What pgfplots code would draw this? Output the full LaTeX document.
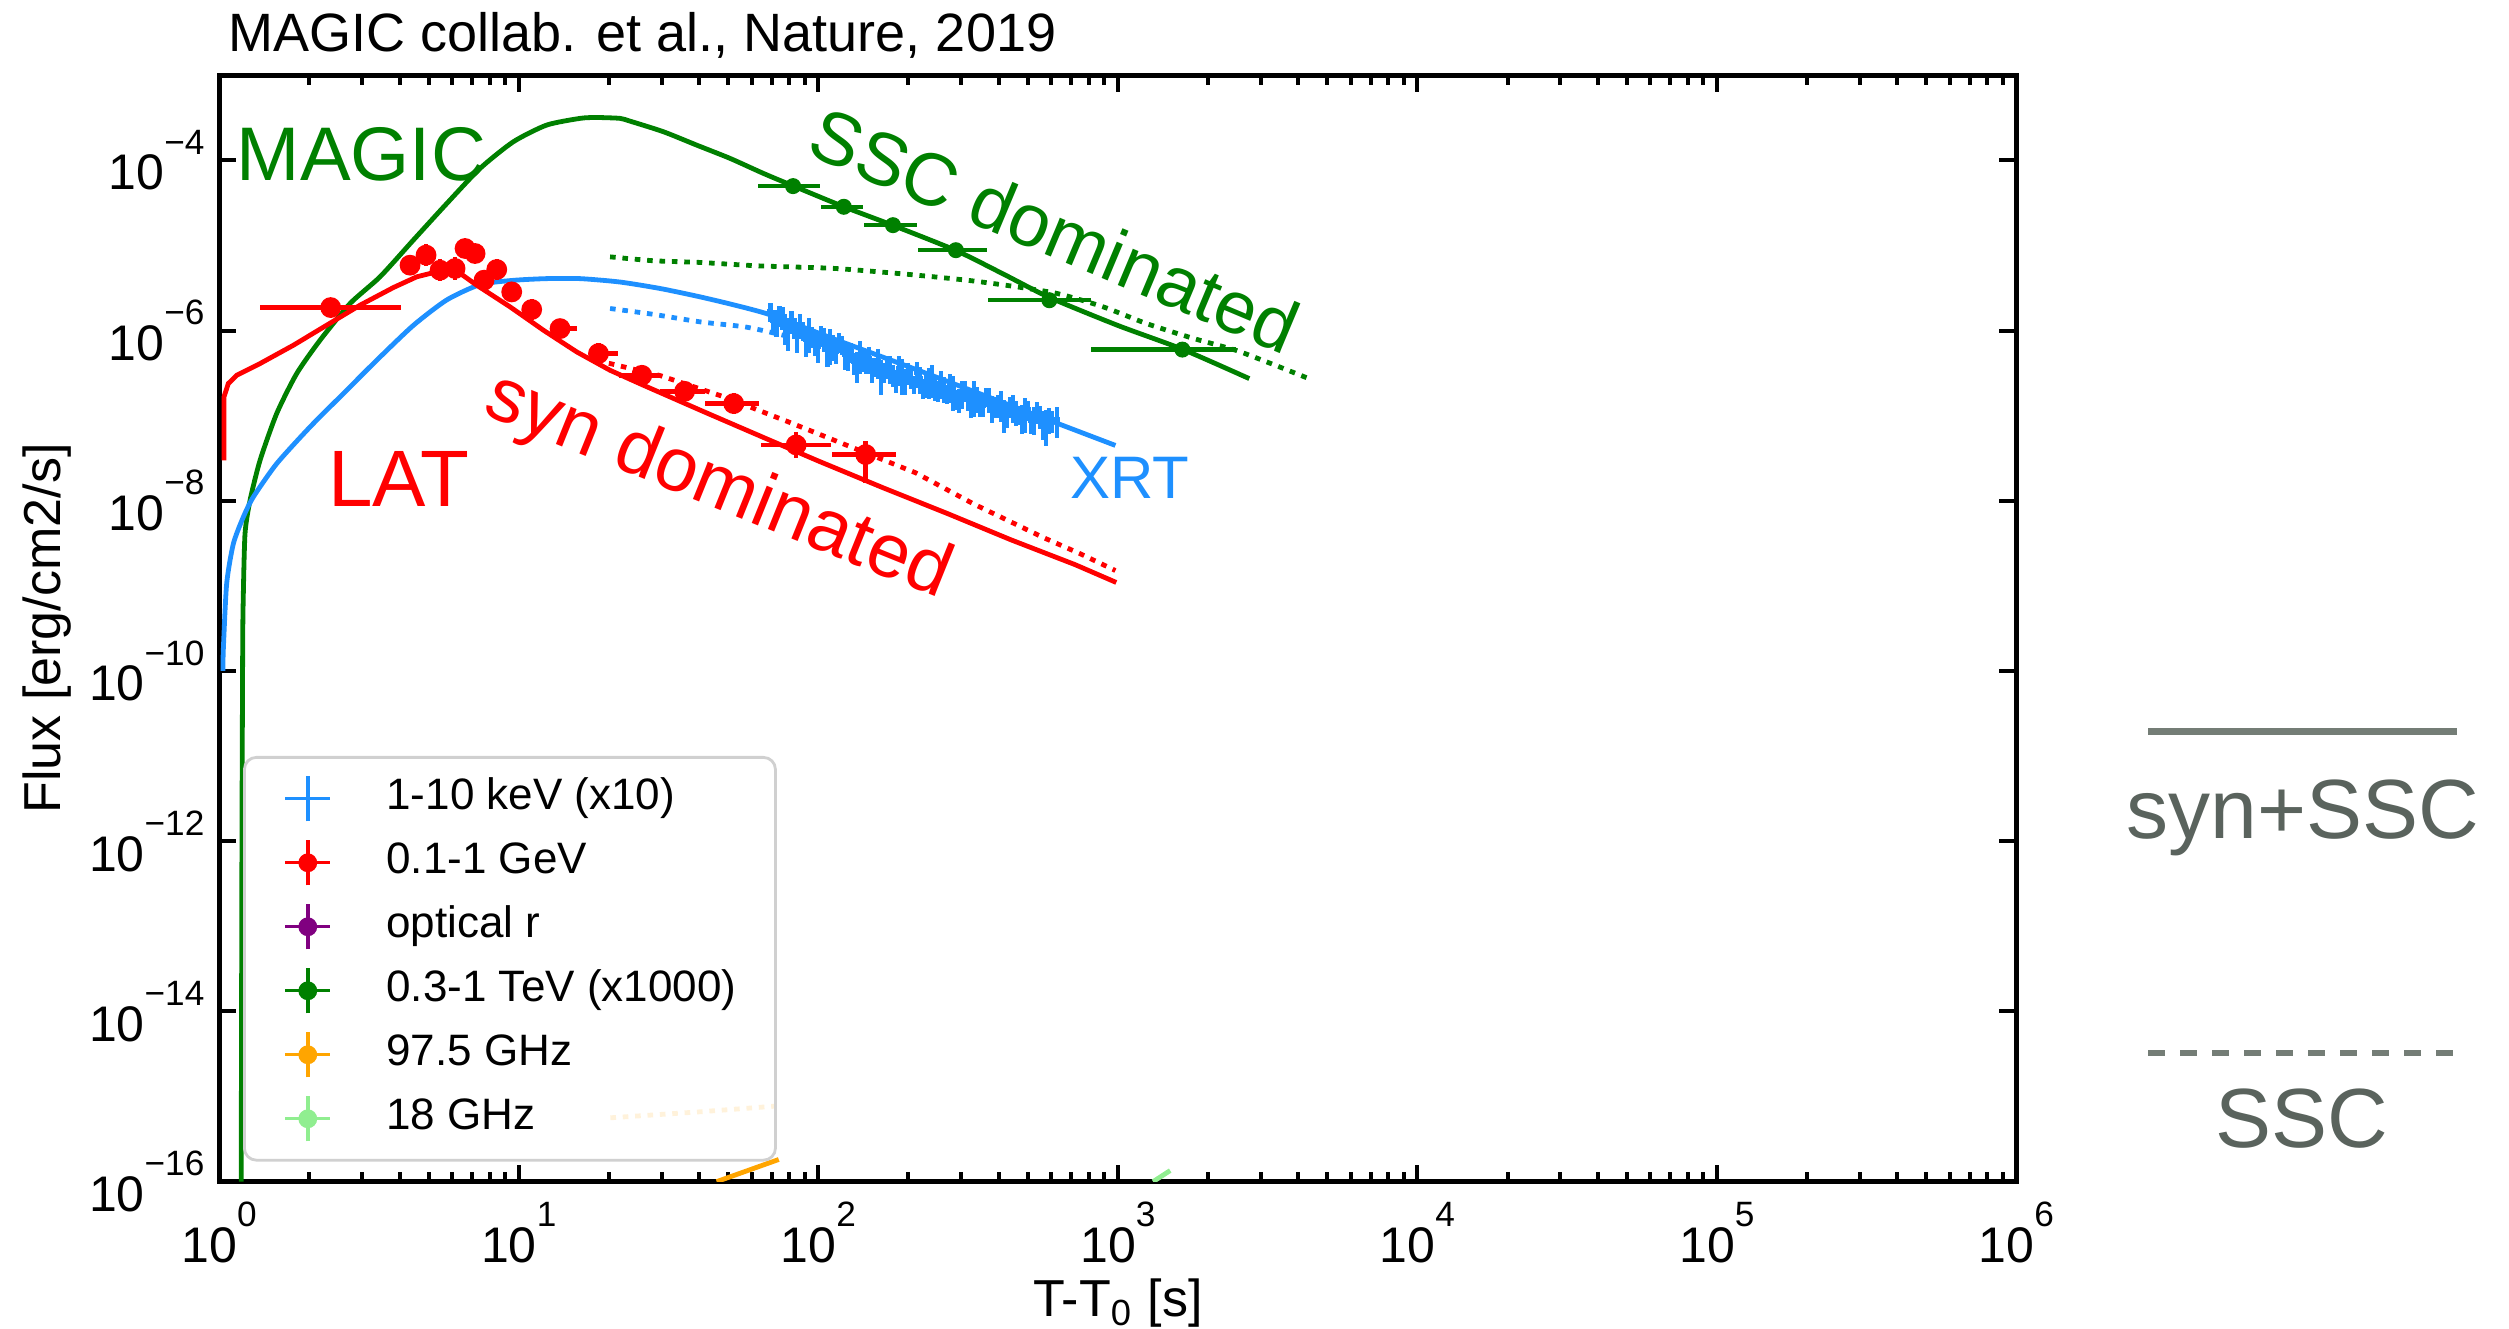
\documentclass[border=0pt]{standalone}
\usepackage{pgfplots}
\pgfplotsset{compat=1.18}
\usepackage{fontspec}
\setmainfont{Liberation Sans}
\definecolor{mblue}{RGB}{30,144,255}
\definecolor{mgreen}{RGB}{0,128,0}
\definecolor{mred}{RGB}{255,0,0}
\definecolor{mpurple}{RGB}{128,0,128}
\definecolor{morange}{RGB}{255,165,0}
\definecolor{mlgreen}{RGB}{144,238,144}
\definecolor{pline}{RGB}{116,125,118}
\definecolor{ptext}{RGB}{90,99,93}
\definecolor{legframe}{RGB}{208,208,208}
\newcommand{\tl}[1]{10\raisebox{8.9pt}{\fontsize{8.8pt}{9pt}\selectfont #1}}
\pgfplotsset{
  errimg/.style={legend image code/.code={
    \draw[line width=0.85pt] (0pt,0pt) -- (11.25pt,0pt);
    \draw[line width=0.85pt] (5.625pt,-5.625pt) -- (5.625pt,5.625pt);
    \fill[fill opacity=1] (5.625pt,0pt) circle (2pt);
    \path[draw=none,fill=none] (0pt,0pt) -- (25.3pt,0pt);
  }},
  errimgnm/.style={legend image code/.code={
    \draw[line width=0.85pt] (0pt,0pt) -- (11.25pt,0pt);
    \draw[line width=0.85pt] (5.625pt,-5.625pt) -- (5.625pt,5.625pt);
    \path[draw=none,fill=none] (0pt,0pt) -- (25.3pt,0pt);
  }},
  curve/.style={no markers, line width=1.2pt, forget plot},
  dotc/.style={no markers, line width=1.2pt, forget plot, dash pattern=on 1.4pt off 1.7pt},
}
\pgfplotstableread{
t f e
69.18 1.698e-6 0.25
72.44 1.297e-6 0.35
75.86 1.469e-6 0.30
79.43 1.000e-6 0.42
83.18 1.091e-6 0.28
87.10 1.191e-6 0.33
91.20 7.834e-7 0.38
95.50 8.551e-7 0.27
100.0 6.457e-7 0.36
104.7 8.091e-7 0.31
109.6 7.178e-7 0.45
114.8 5.675e-7 0.29
120.2 6.950e-7 0.25
125.9 5.129e-7 0.35
131.8 4.246e-7 0.30
138.0 5.321e-7 0.42
144.5 4.305e-7 0.28
151.4 3.565e-7 0.33
158.5 4.365e-7 0.38
166.0 3.289e-7 0.27
173.8 3.673e-7 0.36
182.0 2.642e-7 0.31
190.5 3.155e-7 0.45
199.5 3.214e-7 0.29
208.9 2.366e-7 0.25
218.8 2.761e-7 0.35
229.1 2.333e-7 0.30
239.9 2.780e-7 0.42
251.2 1.995e-7 0.28
263.0 2.118e-7 0.33
275.4 2.249e-7 0.38
288.4 1.578e-7 0.27
302.0 1.879e-7 0.36
316.2 1.622e-7 0.31
331.1 1.774e-7 0.45
346.7 1.340e-7 0.29
363.1 1.683e-7 0.25
380.2 1.274e-7 0.35
398.1 1.358e-7 0.30
416.9 1.076e-7 0.42
436.5 1.291e-7 0.28
457.1 1.122e-7 0.33
478.6 9.772e-8 0.38
501.2 1.175e-7 0.27
524.8 9.333e-8 0.36
549.5 1.000e-7 0.31
575.4 7.943e-8 0.45
602.6 8.710e-8 0.29
628.1 9.000e-8 0.40
70.79 1.308e-6 0.33
74.13 1.514e-6 0.27
77.62 1.131e-6 0.40
81.28 1.300e-6 0.30
85.11 8.551e-7 0.36
89.13 1.000e-6 0.25
93.33 9.727e-7 0.44
97.72 7.345e-7 0.31
102.3 8.790e-7 0.28
107.2 6.053e-7 0.38
112.2 6.607e-7 0.34
117.5 7.379e-7 0.26
123.0 5.200e-7 0.33
128.8 5.675e-7 0.27
134.9 3.999e-7 0.40
141.3 4.677e-7 0.30
147.9 4.764e-7 0.36
154.9 3.767e-7 0.25
162.2 3.151e-7 0.44
169.8 3.855e-7 0.31
177.8 3.044e-7 0.28
186.2 3.635e-7 0.38
195.0 2.618e-7 0.34
204.2 2.790e-7 0.26
213.8 3.181e-7 0.33
223.9 2.136e-7 0.27
234.4 2.606e-7 0.40
245.5 2.148e-7 0.30
257.0 2.443e-7 0.36
269.2 1.837e-7 0.25
281.8 2.042e-7 0.44
295.1 1.570e-7 0.31
309.0 2.004e-7 0.28
323.6 1.512e-7 0.38
338.8 1.614e-7 0.34
354.8 1.308e-7 0.26
371.5 1.605e-7 0.33
389.0 1.300e-7 0.27
407.4 1.388e-7 0.40
426.6 1.027e-7 0.30
446.7 1.290e-7 0.36
467.7 1.047e-7 0.25
489.8 1.122e-7 0.44
512.9 8.710e-8 0.31
537.0 1.122e-7 0.28
562.3 8.318e-8 0.38
588.8 9.120e-8 0.34
}\xrtdata
\begin{document}
\begin{tikzpicture}
\useasboundingbox (0,0) rectangle (627.25pt,332.25pt);
\begin{axis}[
  at={(54.8pt,36.85pt)}, anchor=south west,
  scale only axis, width=449.3pt, height=276.6pt,
  xmode=log, ymode=log,
  xmin=1, xmax=1e6, ymin=1e-16, ymax=1e-3,
  xtick={1,10,100,1000,10000,100000,1000000},
  xticklabels={\tl{0},\tl{1},\tl{2},\tl{3},\tl{4},\tl{5},\tl{6}},
  ytick={1e-16,1e-14,1e-12,1e-10,1e-8,1e-6,1e-4},
  yticklabels={\tl{−16},\tl{−14},\tl{−12},\tl{−10},\tl{−8},\tl{−6},\tl{−4}},
  yminorticks=false,
  tick label style={font=\fontsize{12.5pt}{14pt}\selectfont},
  xticklabel style={anchor=north, inner sep=0pt, yshift=-5pt},
  yticklabel style={anchor=east, inner sep=0pt, xshift=-3.5pt},
  major tick length=4.25pt, minor tick length=2.4pt,
  every tick/.style={black, line width=1pt},
  axis line style={line width=1.2pt},
  xlabel={T-T\textsubscript{0} [s]},
  ylabel={Flux [erg/cm2/s]},
  label style={font=\fontsize{13pt}{15pt}\selectfont},
  xlabel style={at={(axis description cs:0.5,-0.122)}, anchor=base},
  ylabel style={at={(axis description cs:-0.0959,0.5)}, anchor=center},
  title={MAGIC collab. et al., Nature, 2019},
  title style={at={(axis description cs:0,1)}, anchor=base west, xshift=2.2pt, yshift=-0.1pt, font=\fontsize{13.5pt}{15pt}\selectfont, inner sep=0pt},
  clip marker paths=true,
  legend style={at={(0.01324,0.3847)}, anchor=north west, draw=legframe, line width=0.7pt,
    rounded corners=3pt, fill=white, fill opacity=0.8, text opacity=1,
    font=\fontsize{11pt}{13pt}\selectfont, inner xsep=9.8pt, inner ysep=4.3pt, row sep=3.9pt,
    nodes={inner sep=0pt, text height=8pt, text depth=2.4pt, anchor=west}},
  legend cell align=left,
]
% ---- orange / light green (radio) ----
\addplot[dotc, morange!70] coordinates {(20.23,5.62e-16) (40,6.6e-16) (73.8,7.76e-16)};
\addplot[curve, morange] coordinates {(45.8,1e-16) (73.8,1.82e-16)};
\addplot[curve, mlgreen] coordinates {(1312,1e-16) (1496,1.349e-16)};
% ---- green (TeV) model ----
\addplot[curve, mgreen, smooth, tension=0.4] coordinates {
(1.1844,1e-16) (1.1912,1e-12) (1.1978,1.738e-10) (1.2023,6.310e-10) (1.2195,4.093e-9)
(1.2673,1.009e-8) (1.3690,2.985e-8) (1.5556,1.057e-7) (1.8143,3.119e-7) (2.1710,7.691e-7)
(2.7340,2.075e-6) (3.443,4.276e-6) (4.446,1.153e-5) (5.754,3.112e-5) (7.430,8.035e-5)
(9.594,1.652e-4) (12.39,2.594e-4) (16.03,3.112e-4) (18.20,3.184e-4) (21.78,3.112e-4)
(23.55,2.884e-4) (30.41,2.168e-4) (39.26,1.510e-4) (50.82,1.052e-4) (65.61,7.015e-5)
(82.41,5.012e-5) (121.6,2.851e-5) (177.8,1.718e-5) (288.4,8.710e-6) (416.9,4.571e-6)
(590.2,2.455e-6) (1000,1.148e-6) (1644,6.026e-7) (2748,2.723e-7)};
\addplot[dotc, mgreen, smooth, tension=0.4] coordinates {
(20.18,7.345e-6) (28.18,6.607e-6) (40.33,6.310e-6) (63.10,5.754e-6) (113.0,5.370e-6)
(199.5,4.571e-6) (316.2,3.890e-6) (446.7,3.311e-6) (628.1,2.723e-6) (891.3,1.905e-6)
(1247,1.208e-6) (1778,8.128e-7) (2477,5.861e-7) (3311,3.981e-7) (4416,2.661e-7)};
% ---- blue (X-ray) model ----
\addplot[curve, mblue, smooth, tension=0.4] coordinates {
(1.030,1e-10) (1.032,1.738e-10) (1.059,1.057e-9) (1.115,3.126e-9) (1.204,6.442e-9)
(1.300,1.107e-8) (1.556,2.729e-8) (2.010,7.362e-8) (2.597,1.816e-7) (3.357,4.477e-7)
(4.446,1.148e-6) (5.754,2.291e-6) (7.430,3.467e-6) (9.594,3.890e-6) (12.39,4.074e-6)
(16.03,4.074e-6) (21.78,3.715e-6) (29.65,3.119e-6) (39.81,2.512e-6) (52.48,1.995e-6)
(69.82,1.514e-6) (113.0,7.943e-7) (224.4,3.236e-7) (445.7,1.288e-7) (606.7,8.511e-8)
(981.7,4.467e-8)};
\addplot[dotc, mblue, smooth, tension=0.4] coordinates {
(20.18,1.816e-6) (28.18,1.549e-6) (40.33,1.265e-6) (56.89,1.104e-6) (72.28,9.226e-7) (79.43,8.511e-7)};
% ---- XRT data (1-10 keV x10) ----
\addplot[draw=none, mark=none, forget plot,
  error bars/.cd, x dir=both, x fixed relative=0.024, y dir=both, y explicit relative,
  error bar style={draw=mblue, line width=1.1pt}, error mark=none]
  table[x=t, y=f, y error=e] {\xrtdata};
% ---- red (LAT) model ----
\addplot[curve, mred] coordinates {
(1.0375,2.985e-8) (1.0375,1.660e-7) (1.0727,2.382e-7) (1.1440,2.985e-7) (1.3690,4.093e-7)
(1.7684,6.714e-7) (2.2855,1.156e-6) (2.9526,1.986e-6) (3.8150,3.199e-6) (4.5645,4.276e-6)
(5.3263,4.898e-6) (6.2087,5.023e-6) (7.2395,3.412e-6) (9.357,1.897e-6) (12.09,1.009e-6)
(15.62,5.610e-7) (20.18,3.412e-7) (26.08,2.275e-7) (41.88,1.096e-7) (65.01,5.623e-8)
(101.2,2.884e-8) (165.2,1.413e-8) (269.8,7.079e-9) (440.6,3.467e-9) (719.5,1.778e-9)
(988.5,1.096e-9)};
\addplot[dotc, mred] coordinates {
(18.20,4.365e-7) (20.18,4.093e-7) (29.72,2.951e-7) (48.53,1.660e-7) (79.07,8.511e-8)
(129.1,4.266e-8) (210.9,2.138e-8) (331.1,9.120e-9) (562.3,3.715e-9) (746.4,2.399e-9)
(981.7,1.514e-9)};
% ---- red data (0.1-1 GeV) ----
\addplot[only marks, mark=*, mark size=2.4pt, mred, forget plot,
  error bars/.cd, x dir=both, x explicit, y dir=both, y explicit relative,
  error bar style={line width=1.1pt}, error mark=none]
  table[x=t, y=f, x error minus=xm, x error plus=xp, y error minus=ym, y error plus=yp] {
t f xm xp ym yp
2.356 1.862e-6 0.987 1.680 0.109 0.122
4.337 5.861e-6 0 0 0.206 0.259
4.905 7.691e-6 0 0 0.259 0.349
5.463 5.117e-6 0 0 0.259 0.349
6.131 5.358e-6 0 0 0.259 0.349
6.620 9.204e-6 0 0 0.187 0.230
7.150 8.035e-6 0 0 0.187 0.230
7.661 3.908e-6 0 0 0.241 0.318
8.446 5.212e-6 0 0 0.241 0.318
9.476 2.844e-6 0 0 0.241 0.318
11.05 1.766e-6 0 0 0.241 0.318
13.74 1.054e-6 1.0 1.88 0.206 0.259
18.46 5.358e-7 1.16 3.07 0.241 0.318
25.76 2.979e-7 4.16 3.96 0.241 0.318
35.8 1.932e-7 6.1 6.1 0.206 0.259
52.2 1.387e-7 10.3 11.3 0.241 0.318
84.4 4.529e-8 20.0 26.0 0.292 0.413
144 3.491e-8 32.6 38 0.532 0.445
};
% ---- green data (0.3-1 TeV x1000) ----
\addplot[only marks, mark=*, mark size=1.8pt, mgreen, forget plot,
  error bars/.cd, x dir=both, x explicit, y dir=both, y explicit relative,
  error bar style={line width=1.1pt}, error mark=none]
  table[x=t, y=f, x error minus=xm, x error plus=xp, y error minus=ym, y error plus=yp] {
t f xm xp ym yp
82.4 4.977e-5 19.4 18.6 0.109 0.122
121.7 2.844e-5 19.8 19.3 0.109 0.122
177.6 1.730e-5 35.6 35.4 0.109 0.122
288 8.790e-6 73 78 0.109 0.122
591 2.270e-6 222 222 0.109 0.122
1643 5.970e-7 830 834 0.168 0.202
};
% ---- clipped points at the right edge ----
\addplot[only marks, mark=*, mark size=2pt, mgreen, forget plot] coordinates {(1.02e6,1.95e-11) (1.02e6,1.02e-11)};
\addplot[only marks, mark=*, mark size=2pt, mblue, forget plot] coordinates {(1.02e6,4.90e-12) (1.02e6,2.40e-12)};
\addplot[only marks, mark=*, mark size=2pt, mred, forget plot] coordinates {(1.02e6,4.37e-13)};
\addplot[only marks, mark=*, mark size=2pt, mpurple, forget plot] coordinates {(1.02e6,2.40e-13) (1.02e6,2.82e-14)};
\addplot[only marks, mark=*, mark size=2pt, morange, forget plot] coordinates {(1.02e6,2.04e-14) (1.02e6,2.04e-16)};
\addplot[only marks, mark=*, mark size=2pt, mlgreen, forget plot] coordinates {(1.02e6,3.09e-15)};
% ---- annotations ----
\node[anchor=base west, inner sep=0pt, text=mgreen, font=\fontsize{19pt}{21pt}\selectfont] at (axis cs:1.138,5.78e-5) {MAGIC};
\node[anchor=base west, inner sep=0pt, text=mred, font=\fontsize{20pt}{22pt}\selectfont] at (axis cs:2.296,8.63e-9) {LAT};
\node[anchor=base west, inner sep=0pt, text=mblue, font=\fontsize{15pt}{17pt}\selectfont] at (axis cs:691.8,1.059e-8) {XRT};
\node[rotate=-22, inner sep=0pt, text=mred, font=\fontsize{19pt}{21pt}\selectfont] at (axis cs:46.2,1.41e-8) {syn dominated};
\node[rotate=-22.75, inner sep=0pt, text=mgreen, font=\fontsize{18.6pt}{21pt}\selectfont] at (axis cs:616.6,1.514e-5) {SSC dominated};
% ---- legend ----
\addlegendimage{mblue, errimgnm}\addlegendentry{1-10 keV (x10)}
\addlegendimage{mred, errimg}\addlegendentry{0.1-1 GeV}
\addlegendimage{mpurple, errimg}\addlegendentry{optical r}
\addlegendimage{mgreen, errimg}\addlegendentry{0.3-1 TeV (x1000)}
\addlegendimage{morange, errimg}\addlegendentry{97.5 GHz}
\addlegendimage{mlgreen, errimg}\addlegendentry{18 GHz}
\end{axis}
% ---- line-style key at the right ----
\draw[pline, line width=1.6pt] (537.1pt,149.4pt) -- (614.3pt,149.4pt);
\node[anchor=base, inner sep=0pt, text=ptext, font=\fontsize{21pt}{23pt}\selectfont] at (575.7pt,122.65pt) {syn+SSC};
\draw[pline, line width=1.6pt, dash pattern=on 4.2pt off 3.8pt] (537.1pt,69.05pt) -- (613.35pt,69.05pt);
\node[anchor=base, inner sep=0pt, text=ptext, font=\fontsize{21pt}{23pt}\selectfont] at (575.5pt,45.25pt) {SSC};
\end{tikzpicture}
\end{document}
